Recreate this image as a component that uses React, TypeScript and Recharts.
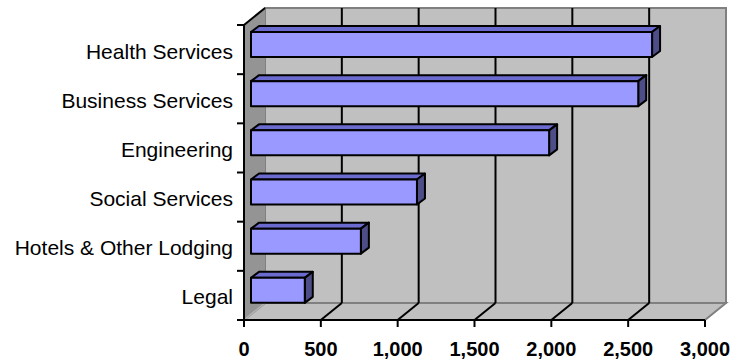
import React from 'react';
import { BarChart, Bar, XAxis, YAxis, CartesianGrid } from 'recharts';

const industries = [
    'Health Services',
    'Business Services',
    'Engineering',
    'Social Services',
    'Hotels & Other Lodging',
    'Legal',
];
const employees = [2610, 2520, 1940, 1080, 715, 350];
const xTicks = [0, 500, 1000, 1500, 2000, 2500, 3000];

const data = industries.map((name, i) => ({ name, value: employees[i] }));

const WIDTH = 745;
const HEIGHT = 360;
const Y_AXIS_WIDTH = 240;
const X_AXIS_HEIGHT = 40;
const MARGIN = { top: 25, right: 40, bottom: 0, left: 4 };
const PLOT = {
    left: MARGIN.left + Y_AXIS_WIDTH,
    top: MARGIN.top,
    right: WIDTH - MARGIN.right,
    bottom: HEIGHT - MARGIN.bottom - X_AXIS_HEIGHT,
};
// depth of the 3d box (walls + floor)
const DX = 21;
const DY = 17;
// bars sit a bit behind the front plane and have their own depth
const BAR_OFF_X = 7;
const BAR_OFF_Y = 5;
const BAR_DX = 8;
const BAR_DY = 6;

const FONT = '"Liberation Sans", Arial, sans-serif';

function Walls() {
    const { left, top, right, bottom } = PLOT;
    return (
        <g>
            {/* back wall */}
            <rect x={left + DX} y={top - DY} width={right - left} height={bottom - top} fill="#c0c0c0" stroke="#808080" strokeWidth={2} />
            {/* floor */}
            <polygon
                points={`${left},${bottom} ${left + DX},${bottom - DY} ${right + DX},${bottom - DY} ${right},${bottom}`}
                fill="#c0c0c0"
                stroke="#808080"
                strokeWidth={2}
            />
            {/* side wall */}
            <polygon
                points={`${left},${top} ${left + DX},${top - DY} ${left + DX},${bottom - DY} ${left},${bottom}`}
                fill="#949494"
            />
            <line x1={left} y1={bottom} x2={left + DX} y2={bottom - DY} stroke="#b4b4b4" strokeWidth={1.5} />
            <line x1={left} y1={top} x2={left + DX} y2={top - DY} stroke="#000" strokeWidth={2} />
        </g>
    );
}

// one grid line per x tick: on the back wall and across the floor.
// the walls are drawn together with the first (zero) line so they sit under the grid.
function GridLine(props: any) {
    const { x1, y1, y2 } = props;
    if (x1 == null) return <g />;
    const atStart = x1 <= PLOT.left + 1;
    const atEnd = x1 >= PLOT.right - 1;
    return (
        <g>
            {atStart && <Walls />}
            {!atStart && !atEnd && (
                <g stroke="#000" strokeWidth={2}>
                    <line x1={x1 + DX} y1={y1 - DY} x2={x1 + DX} y2={y2 - DY} />
                    <line x1={x1} y1={y2} x2={x1 + DX} y2={y2 - DY} />
                </g>
            )}
        </g>
    );
}

function Bar3D(props: any) {
    const { x, y, width, height } = props;
    if (width == null || width <= 0) return <g />;
    const fx = x + BAR_OFF_X;
    const fy = y - BAR_OFF_Y;
    const top = `${fx},${fy} ${fx + width},${fy} ${fx + width + BAR_DX},${fy - BAR_DY} ${fx + BAR_DX},${fy - BAR_DY}`;
    const side = `${fx + width},${fy} ${fx + width + BAR_DX},${fy - BAR_DY} ${fx + width + BAR_DX},${fy + height - BAR_DY} ${fx + width},${fy + height}`;
    return (
        <g stroke="#000" strokeWidth={2} strokeLinejoin="round">
            <polygon points={top} fill="#6b6bcf" />
            <polygon points={side} fill="#4d4d88" />
            <rect x={fx} y={fy} width={width} height={height} fill="#9999ff" />
        </g>
    );
}

function CategoryTick(props: any) {
    const { y, payload, index } = props;
    const band = (PLOT.bottom - PLOT.top) / industries.length;
    return (
        <g>
            <line x1={PLOT.left - 7} y1={y - band / 2} x2={PLOT.left} y2={y - band / 2} stroke="#000" strokeWidth={2} />
            {index === industries.length - 1 && (
                <line x1={PLOT.left - 7} y1={y + band / 2} x2={PLOT.left} y2={y + band / 2} stroke="#000" strokeWidth={2} />
            )}
            <text x={PLOT.left - 11} y={y + 9} textAnchor="end" fontSize={21} fontFamily={FONT} fill="#000">
                {payload.value}
            </text>
        </g>
    );
}

function ValueTick(props: any) {
    const { x, payload } = props;
    return (
        <text x={x} y={PLOT.bottom + 36} textAnchor="middle" fontSize={20} fontWeight="bold" fontFamily={FONT} fill="#000">
            {payload.value.toLocaleString('en-US')}
        </text>
    );
}

export default function App() {
    return (
        <div style={{ position: 'absolute', left: 0, top: 0, background: '#fff' }}>
            <BarChart width={WIDTH} height={HEIGHT} data={data} layout="vertical" margin={MARGIN} barSize={25}>
                <CartesianGrid horizontal={false} vertical={GridLine} stroke="#000" />
                <XAxis
                    type="number"
                    domain={[0, 3000]}
                    ticks={xTicks}
                    interval={0}
                    height={X_AXIS_HEIGHT}
                    tickSize={7}
                    tickLine={{ stroke: '#000', strokeWidth: 2 }}
                    axisLine={{ stroke: '#000', strokeWidth: 2 }}
                    tick={<ValueTick />}
                />
                <YAxis
                    type="category"
                    dataKey="name"
                    width={Y_AXIS_WIDTH}
                    tickLine={false}
                    axisLine={{ stroke: '#000', strokeWidth: 2 }}
                    tick={<CategoryTick />}
                    interval={0}
                />
                <Bar dataKey="value" shape={<Bar3D />} isAnimationActive={false} />
            </BarChart>
        </div>
    );
}
